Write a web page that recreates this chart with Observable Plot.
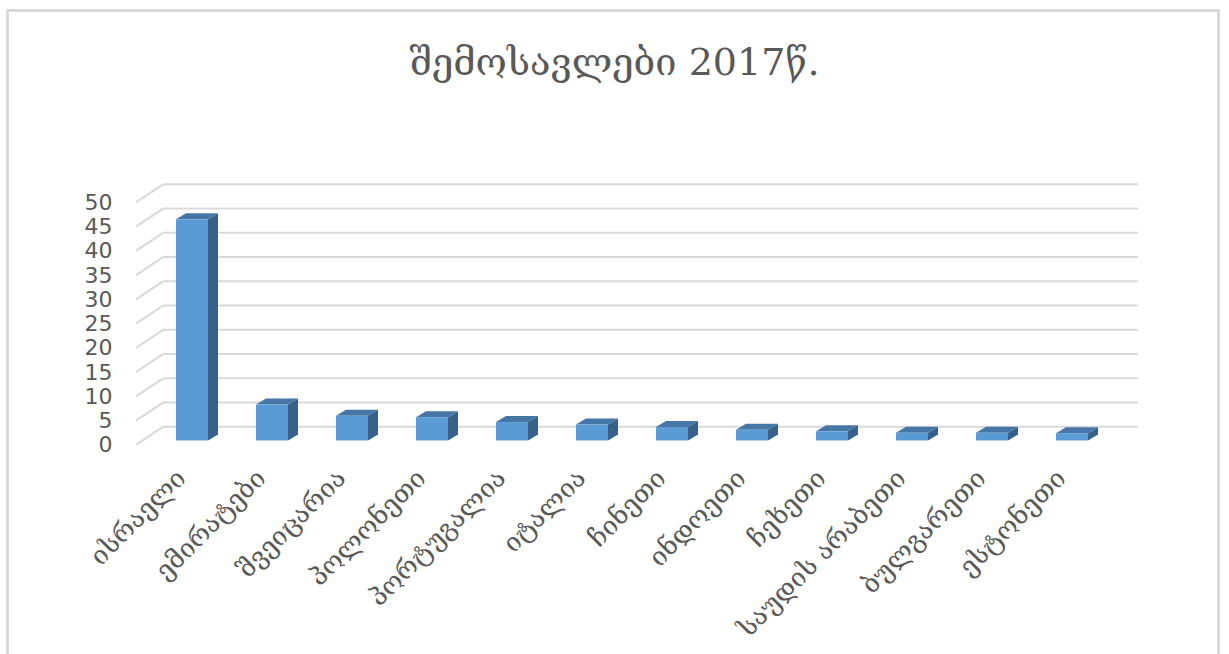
<!DOCTYPE html>
<html><head><meta charset="utf-8">
<script src="https://cdn.jsdelivr.net/npm/d3@7"></script>
<script src="https://cdn.jsdelivr.net/npm/@observablehq/plot@0.6"></script>
<style>
html,body{margin:0;padding:0;background:#fff;width:1229px;height:654px;overflow:hidden;}
#frame{position:absolute;left:6px;top:9px;width:1214px;height:700px;border:3px solid #d9d9d9;border-bottom:none;pointer-events:none;z-index:2;box-sizing:border-box;}
#title{height:130px;box-sizing:border-box;padding-top:38px;text-align:center;font-family:"DejaVu Serif",serif;font-size:38px;line-height:48px;color:#595959;}
#chart svg{display:block;}
</style></head>
<body>
<div id="frame"></div>
<div id="title">შემოსავლები 2017წ.</div>
<div id="chart"></div>
<script>
const categories = ["ისრაელი","ემირატები","შვეიცარია","პოლონეთი","პორტუგალია","იტალია","ჩინეთი","ინდოეთი","ჩეხეთი","საუდის არაბეთი","ბულგარეთი","ესტონეთი"];
const values = [45.6, 7.4, 5.1, 4.8, 3.8, 3.3, 2.8, 2.2, 1.9, 1.6, 1.6, 1.5];
const yTicks = [0, 5, 10, 15, 20, 25, 30, 35, 40, 45, 50];

const data = categories.map((c, i) => ({c, v: values[i]}));

const FRONT = "#5B9BD5", TOP = "#4676A5", SIDE = "#376189", GRID = "#d9d9d9", TEXT = "#595959";
const DX = 10, DY = 6;          // bar depth
const FX = -6.5, FY = 4.3;      // front edge of floor
const BX = 20.5, BY = -13.7;    // back wall

function gridMark(index, scales, values, dims) {
  const y = scales.y;
  const left = dims.marginLeft, right = dims.width - dims.marginRight - 4;
  const g = d3.create("svg:g").attr("stroke", GRID).attr("stroke-width", 2).attr("fill", "none");
  yTicks.forEach(t => {
    const yy = y(t);
    g.append("path").attr("d", `M${left + BX},${yy + BY}H${right + BX}`);
    g.append("path").attr("d", `M${left + FX},${yy + FY}L${left + BX},${yy + BY}`);
  });
  return g.node();
}

function depthMark(index, scales) {
  const {x, y} = scales;
  const bw = typeof x.bandwidth === "function" ? x.bandwidth() : x.bandwidth;
  const g = d3.create("svg:g");
  data.forEach(d => {
    const x0 = x(d.c), x1 = x0 + bw, y0 = y(0), y1 = y(d.v);
    g.append("path").attr("fill", SIDE)
      .attr("d", `M${x1},${y0}L${x1},${y1}L${x1 + DX},${y1 - DY}L${x1 + DX},${y0 - DY}Z`);
    g.append("path").attr("fill", TOP)
      .attr("d", `M${x0},${y1}L${x1},${y1}L${x1 + DX},${y1 - DY}L${x0 + DX},${y1 - DY}Z`);
  });
  return g.node();
}

const chart = Plot.plot({
  width: 1229, height: 524,
  marginLeft: 142.5, marginRight: 107.6, marginTop: 68, marginBottom: 213.5,
  style: {background: "transparent", overflow: "visible"},
  x: {domain: categories, paddingInner: 0.6, paddingOuter: 0.35, label: null},
  y: {domain: [0, 50], label: null},
  marks: [
    gridMark,
    Plot.axisY({ticks: yTicks, tickSize: 0, tickPadding: 30.5, dy: 4.3, label: null,
      fontSize: 22, fontFamily: "DejaVu Sans", fill: TEXT}),
    Plot.axisX({tickSize: 0, tickRotate: -45, tickPadding: 33, dx: -11, label: null,
      fontSize: 26, fontFamily: "DejaVu Serif", fill: TEXT}),
    depthMark,
    Plot.barY(data, {x: "c", y: "v", fill: FRONT})
  ]
});
document.getElementById("chart").appendChild(chart);
</script>
</body></html>
